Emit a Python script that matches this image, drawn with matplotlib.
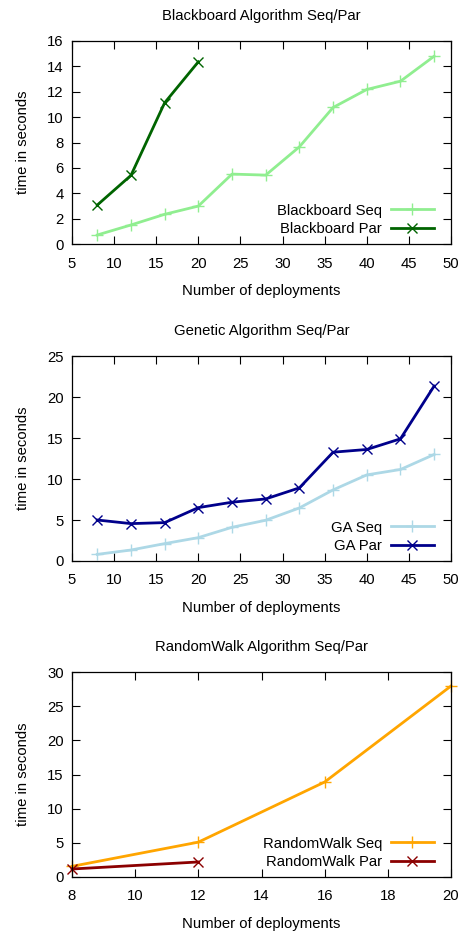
import matplotlib
matplotlib.use("Agg")
import matplotlib.pyplot as plt

plt.rcParams['font.family'] = ['Liberation Sans', 'DejaVu Sans']
plt.rcParams['font.size'] = 10.7

bb_x = [8, 12, 16, 20, 24, 28, 32, 36, 40, 44, 48]
bb_seq = [0.71, 1.50, 2.34, 2.99, 5.51, 5.43, 7.66, 10.76, 12.18, 12.83, 14.8]
bb_par_x = [8, 12, 16, 20]
bb_par = [3.07, 5.41, 11.13, 14.36]

ga_x = [8, 12, 16, 20, 24, 28, 32, 36, 40, 44, 48]
ga_seq = [0.81, 1.34, 2.12, 2.85, 4.11, 4.97, 6.47, 8.67, 10.5, 11.16, 12.99]
ga_par = [5.0, 4.56, 4.68, 6.51, 7.17, 7.57, 8.92, 13.27, 13.6, 14.9, 21.34]

rw_x = [8, 12, 16, 20]
rw_seq = [1.56, 5.1, 13.9, 27.95]
rw_par_x = [8, 12]
rw_par = [1.17, 2.2]

titles = ["Blackboard Algorithm Seq/Par", "Genetic Algorithm Seq/Par", "RandomWalk Algorithm Seq/Par"]

fig = plt.figure(figsize=(4.6, 9.31), dpi=100)
L, R = 72 / 460, 451 / 460
boxes = [(41, 244), (356, 561), (672, 877)]
axes = []
for top, bot in boxes:
    ax = fig.add_axes([L, 1 - bot / 931, R - L, (bot - top) / 931])
    axes.append(ax)

def style(ax, title):
    ax.set_title(title, fontsize=10.7, pad=15)
    ax.set_xlabel("Number of deployments", labelpad=10)
    ax.set_ylabel("time in seconds", labelpad=12)
    ax.tick_params(axis='x', pad=9)
    ax.tick_params(axis='y', pad=6)
    ax.tick_params(direction='in', top=True, right=True, length=6, width=0.8)
    for s in ax.spines.values():
        s.set_linewidth(0.9)
    ax.legend(loc='lower right', frameon=False, markerfirst=False,
              handlelength=2.9, borderaxespad=0, borderpad=0, labelspacing=0.3,
              handletextpad=0.6, fontsize=10.7,
              bbox_to_anchor=(1 - 17 / 379, 8 / 204))

ax = axes[0]
ax.plot(bb_x, bb_seq, color='#90ee90', lw=2, marker='+', ms=9, mew=1, label='Blackboard Seq')
ax.plot(bb_par_x, bb_par, color='#006400', lw=2, marker='x', ms=7, mew=1, label='Blackboard Par')
ax.set_xlim(5, 50)
ax.set_ylim(0, 16)
ax.set_xticks(range(5, 51, 5))
ax.set_yticks(range(0, 17, 2))
style(ax, titles[0])

ax = axes[1]
ax.plot(ga_x, ga_seq, color='#add8e6', lw=2, marker='+', ms=9, mew=1, label='GA Seq')
ax.plot(ga_x, ga_par, color='#00008b', lw=2, marker='x', ms=7, mew=1, label='GA Par')
ax.set_xlim(5, 50)
ax.set_ylim(0, 25)
ax.set_xticks(range(5, 51, 5))
ax.set_yticks(range(0, 26, 5))
style(ax, titles[1])

ax = axes[2]
ax.plot(rw_x, rw_seq, color='#ffa500', lw=2, marker='+', ms=9, mew=1, label='RandomWalk Seq', clip_on=False)
ax.plot(rw_par_x, rw_par, color='#8b0000', lw=2, marker='x', ms=7, mew=1, label='RandomWalk Par', clip_on=False)
ax.set_xlim(8, 20)
ax.set_ylim(0, 30)
ax.set_xticks(range(8, 21, 2))
ax.set_yticks(range(0, 31, 5))
style(ax, titles[2])

fig.savefig("out.png", dpi=100)
